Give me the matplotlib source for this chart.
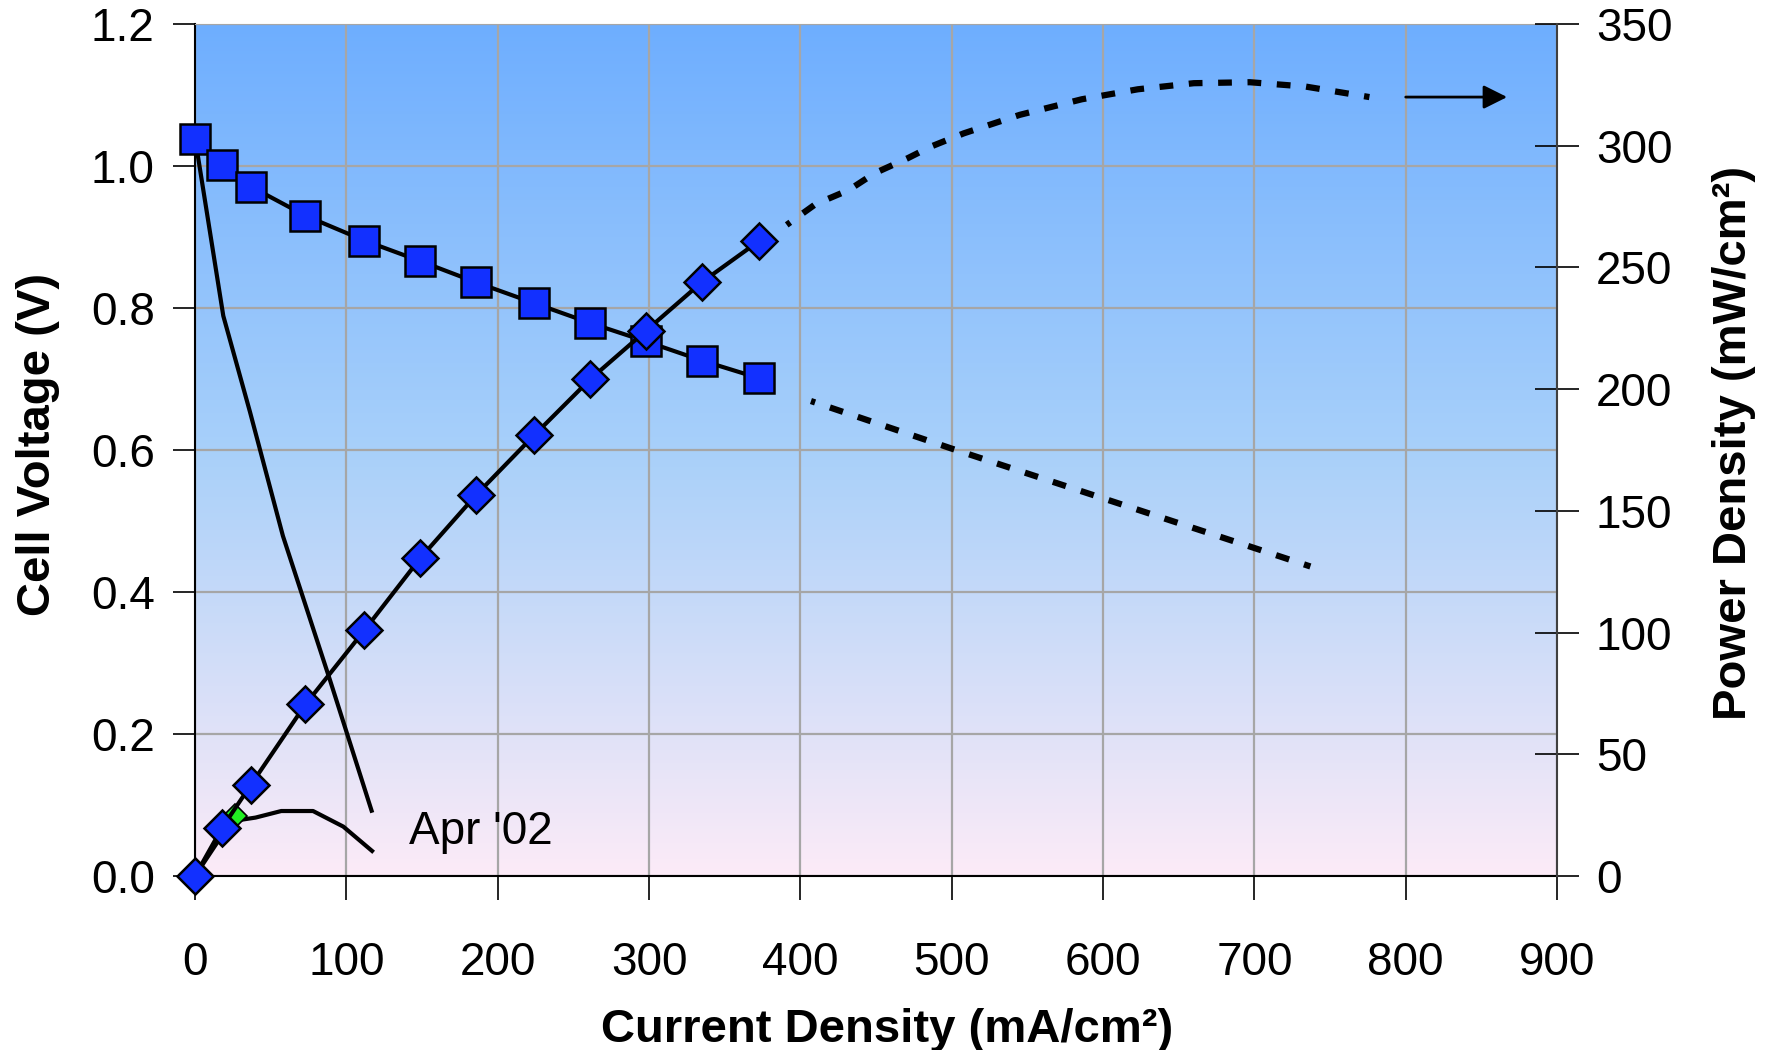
import numpy as np
import matplotlib
matplotlib.use('Agg')
import matplotlib.pyplot as plt
from matplotlib.colors import LinearSegmentedColormap

plt.rcParams['font.family'] = ['Liberation Sans', 'DejaVu Sans']

# measured cell: squares = cell voltage, diamonds = power density
current = [0, 18, 37, 73, 112, 149, 186, 224, 261, 298, 335, 373]
voltage = [1.038, 1.001, 0.971, 0.930, 0.895, 0.866, 0.836, 0.807, 0.779, 0.753, 0.726, 0.701]
power = [0, 19.9, 37.5, 70.5, 101, 130.7, 156.7, 181, 204, 224, 244, 261]

# projected (dashed) curves
proj_v_current = [407, 500, 600, 700, 737]
proj_voltage = [0.669, 0.602, 0.532, 0.462, 0.436]
proj_p_current = [391, 410, 432, 449, 471, 486, 508, 545, 586, 623, 660, 697, 734, 776]
proj_power = [267.5, 276, 281.8, 288.7, 294.9, 299.6, 305.1, 312.7, 319.1, 323.2, 325.7, 326.1, 324.3, 320]

# Apr '02 curves
apr_v_current = [0, 18.7, 36.3, 58.1, 89.2, 116.7]
apr_voltage = [1.04, 0.789, 0.654, 0.479, 0.276, 0.092]
apr_p_current = [0, 24, 40, 57, 78, 98, 117]
apr_power = [0, 22.5, 24, 26.7, 26.7, 20.3, 10.3]
green_point = (26.5, 24.5)

x_ticks = [0, 100, 200, 300, 400, 500, 600, 700, 800, 900]
v_ticks = [0.0, 0.2, 0.4, 0.6, 0.8, 1.0, 1.2]
p_ticks = [0, 50, 100, 150, 200, 250, 300, 350]

blue = '#1230ff'

fig = plt.figure(figsize=(17.71, 10.5), dpi=100)
ax = fig.add_axes([0.1101, 0.1657, 0.7691, 0.8114])

# background gradient
cmap = LinearSegmentedColormap.from_list('bg', [(0.0, '#fcebf7'), (0.5, '#a8d0fa'), (1.0, '#6eaeff')])
grad = np.linspace(0, 1, 256).reshape(-1, 1)
ax.imshow(grad, cmap=cmap, origin='lower', aspect='auto', extent=[0, 1, 0, 1],
          transform=ax.transAxes, zorder=-1)

ax.set_xlim(0, 900)
ax.set_ylim(0, 1.2)
ax.set_axisbelow(True)
ax.grid(True, color='#a6a6a6', lw=1.6)
ax.set_xticks(x_ticks)
ax.set_yticks(v_ticks)
ax.set_yticklabels(['%.1f' % v for v in v_ticks])
ax.tick_params(axis='y', direction='out', length=16, width=1.2, pad=13, labelsize=33)
ax.tick_params(axis='x', direction='out', length=17, width=1.2, pad=30, labelsize=33)
for s in ['left', 'bottom']:
    ax.spines[s].set_linewidth(1.5)
ax.spines['top'].set_color('#a6a6a6')
ax.spines['right'].set_visible(False)

# Apr '02 voltage
ax.plot(apr_v_current, apr_voltage, color='black', lw=3, zorder=2)
# projected voltage
ax.plot(proj_v_current, proj_voltage, color='black', lw=4.5, ls=(1.5, (2.2, 2.5)), zorder=2)
# measured voltage
ax.plot(current, voltage, color='black', lw=3, marker='s', ms=21, mfc=blue, mec='black',
        mew=1.8, zorder=3, clip_on=False)
ax.text(141.3, 0.0446, "Apr '02", fontsize=33, ha='left', va='baseline')

ax2 = ax.twinx()
ax2.set_ylim(0, 350)
ax2.set_yticks(p_ticks)
ax2.tick_params(axis='y', direction='inout', length=32, width=1.2, pad=12, labelsize=33)
for s in ['left', 'bottom', 'top']:
    ax2.spines[s].set_visible(False)
ax2.spines['right'].set_color('#404040')
ax2.spines['right'].set_linewidth(1.5)

ax2.plot(apr_p_current, apr_power, color='black', lw=3, zorder=2)
ax2.plot(green_point[0], green_point[1], marker='D', ms=12, mfc='#22ee22', mec='black',
         mew=1.2, ls='none', zorder=2.9)
ax2.plot(proj_p_current, proj_power, color='black', lw=4.5, ls=(1.5, (2.2, 2.5)), zorder=2)
ax2.plot(current, power, color='black', lw=3, marker='D', ms=18.5, mfc=blue, mec='black',
         mew=1.8, zorder=3, clip_on=False)
ax2.annotate('', xy=(867, 320), xytext=(800, 320),
             arrowprops=dict(arrowstyle='-|>', lw=2, color='black', mutation_scale=36,
                             shrinkA=0, shrinkB=0))

fig.text(0.0215, 0.577, 'Cell Voltage (V)', rotation=90, ha='center', va='center',
         fontsize=34, fontweight='bold')
fig.text(0.979, 0.578, 'Power Density (mW/cm²)', rotation=90, ha='center', va='center',
         fontsize=34, fontweight='bold')
fig.text(0.501, 0.0076, 'Current Density (mA/cm²)', ha='center', va='baseline',
         fontsize=34, fontweight='bold')

fig.savefig('out.png', dpi=100)
